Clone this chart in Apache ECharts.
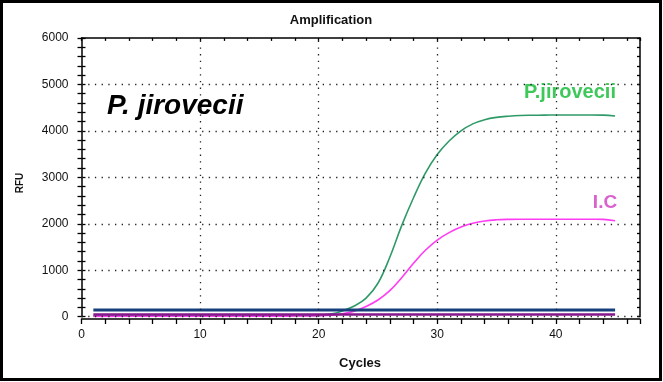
<!DOCTYPE html>
<html>
<head>
<meta charset="utf-8">
<script src="https://cdn.jsdelivr.net/npm/echarts@6/dist/echarts.min.js"></script>
<style>
html,body{margin:0;padding:0;background:#fff;}
#chart{width:663px;height:382px;}
</style>
</head>
<body>
<div id="chart"></div>
<script>
// ---- data ----
const cycles = [1,2,3,4,5,6,7,8,9,10,11,12,13,14,15,16,17,18,19,20,21,22,23,24,25,26,27,28,29,30,31,32,33,34,35,36,37,38,39,40,41,42,43,44,45];
const pjirovecii = [12,12,13,13,14,14,14,15,15,15,16,16,16,17,17,18,18,19,20,26,55,125,230,400,720,1280,1960,2560,3090,3490,3780,4000,4150,4240,4290,4315,4330,4335,4338,4340,4340,4340,4340,4338,4320];
const ic = [8,8,8,9,9,9,9,10,10,10,10,11,11,11,12,12,13,14,16,20,30,60,120,220,360,560,840,1150,1430,1650,1810,1930,2010,2060,2085,2095,2098,2098,2098,2098,2098,2097,2096,2094,2065];
const thresholdValue = 145;
const ntcValue = 45;
const xLabelValues = [0,10,20,30,40];
const yLabelValues = [0,1000,2000,3000,4000,5000,6000];
const xGridValues = [10,20,30,40];
const yGridValues = [0,1000,2000,3000,4000,5000];

const FONT = 'Liberation Sans, Arial, sans-serif';
const pair = (arr) => cycles.map((c, i) => [c, arr[i]]);
const flat = (v) => cycles.map(c => [c, v]);

const chart = echarts.init(document.getElementById('chart'));
const tick = (inside, length) => ({show: true, inside: inside, length: length, lineStyle: {color: '#000', width: 1.3}});
const line = (show) => ({show: show, onZero: false, lineStyle: {color: '#000', width: 1.5}});

chart.setOption({
  animation: false,
  backgroundColor: '#fff',
  grid: {left: 81.5, right: 23, top: 37.9, bottom: 65.3},
  xAxis: [
    {type: 'value', position: 'bottom', offset: 2.3, min: 0, max: 47.1, interval: 2,
     axisLine: line(true), axisTick: tick(false, 5),
     axisLabel: {show: true, margin: 10, fontSize: 12, color: '#111', fontFamily: FONT,
       formatter: v => xLabelValues.includes(v) ? String(v) : ''},
     splitLine: {show: false}},
    {type: 'value', position: 'top', min: 0, max: 47.1, interval: 2,
     axisLine: line(true), axisTick: tick(true, 3),
     axisLabel: {show: false}, splitLine: {show: false}}
  ],
  yAxis: [
    {type: 'value', position: 'left', min: 0, max: 6000, interval: 200,
     axisLine: line(true), axisTick: tick(false, 4),
     axisLabel: {show: true, margin: 13, fontSize: 12, color: '#111', fontFamily: FONT,
       formatter: v => yLabelValues.includes(v) ? String(v) : ''},
     splitLine: {show: false}},
    {type: 'value', position: 'left', min: 0, max: 6000, interval: 200,
     axisLine: line(false), axisTick: tick(true, 4),
     axisLabel: {show: false}, splitLine: {show: false}},
    {type: 'value', position: 'right', min: 0, max: 6000, interval: 200,
     axisLine: line(true), axisTick: tick(true, 3),
     axisLabel: {show: false}, splitLine: {show: false}}
  ],
  series: [
    {name: 'grid', type: 'line', data: flat(0), silent: true, z: 1,
     showSymbol: false, lineStyle: {opacity: 0},
     markLine: {silent: true, symbol: 'none', label: {show: false},
       lineStyle: {color: '#222', width: 1.3, type: [1.3, 5.4]},
       data: xGridValues.map(v => ({xAxis: v})).concat(yGridValues.map(v => ({yAxis: v})))}},
    {name: 'P.jirovecii', type: 'line', data: pair(pjirovecii), smooth: 0.4,
     showSymbol: false, z: 3, lineStyle: {color: '#2f9a68', width: 1.6}},
    {name: 'I.C', type: 'line', data: pair(ic), smooth: 0.4,
     showSymbol: false, z: 3, lineStyle: {color: '#ff3cf4', width: 1.6}},
    {name: 'NTC', type: 'line', data: flat(ntcValue), showSymbol: false, z: 4,
     lineStyle: {color: '#86168c', width: 2.5}},
    {name: 'Threshold', type: 'line', data: flat(thresholdValue), showSymbol: false, z: 4,
     lineStyle: {color: '#173f7c', width: 3}}
  ],
  graphic: [
    {type: 'rect', shape: {x: 1.5, y: 1.5, width: 659, height: 378}, style: {fill: 'none', stroke: '#000', lineWidth: 3}, z: 100},
    {type: 'text', x: 331, y: 20, style: {text: 'Amplification', font: 'bold 13px ' + FONT, fill: '#111', textAlign: 'center', textVerticalAlign: 'middle'}},
    {type: 'text', x: 360, y: 363, style: {text: 'Cycles', font: 'bold 13px ' + FONT, fill: '#111', textAlign: 'center', textVerticalAlign: 'middle'}},
    {type: 'text', x: 20, y: 183, rotation: Math.PI / 2, style: {text: 'RFU', font: 'bold 10px ' + FONT, fill: '#111', textAlign: 'center', textVerticalAlign: 'middle'}},
    {type: 'text', x: 107, y: 106, style: {text: 'P. jirovecii', font: 'italic bold 28px ' + FONT, fill: '#000', textAlign: 'left', textVerticalAlign: 'middle'}},
    {type: 'text', x: 570, y: 92, style: {text: 'P.jirovecii', font: 'bold 20px ' + FONT, fill: '#3fc85a', textAlign: 'center', textVerticalAlign: 'middle'}},
    {type: 'text', x: 605, y: 203, style: {text: 'I.C', font: 'bold 19px ' + FONT, fill: '#da62cf', textAlign: 'center', textVerticalAlign: 'middle'}}
  ]
});
</script>
</body>
</html>
